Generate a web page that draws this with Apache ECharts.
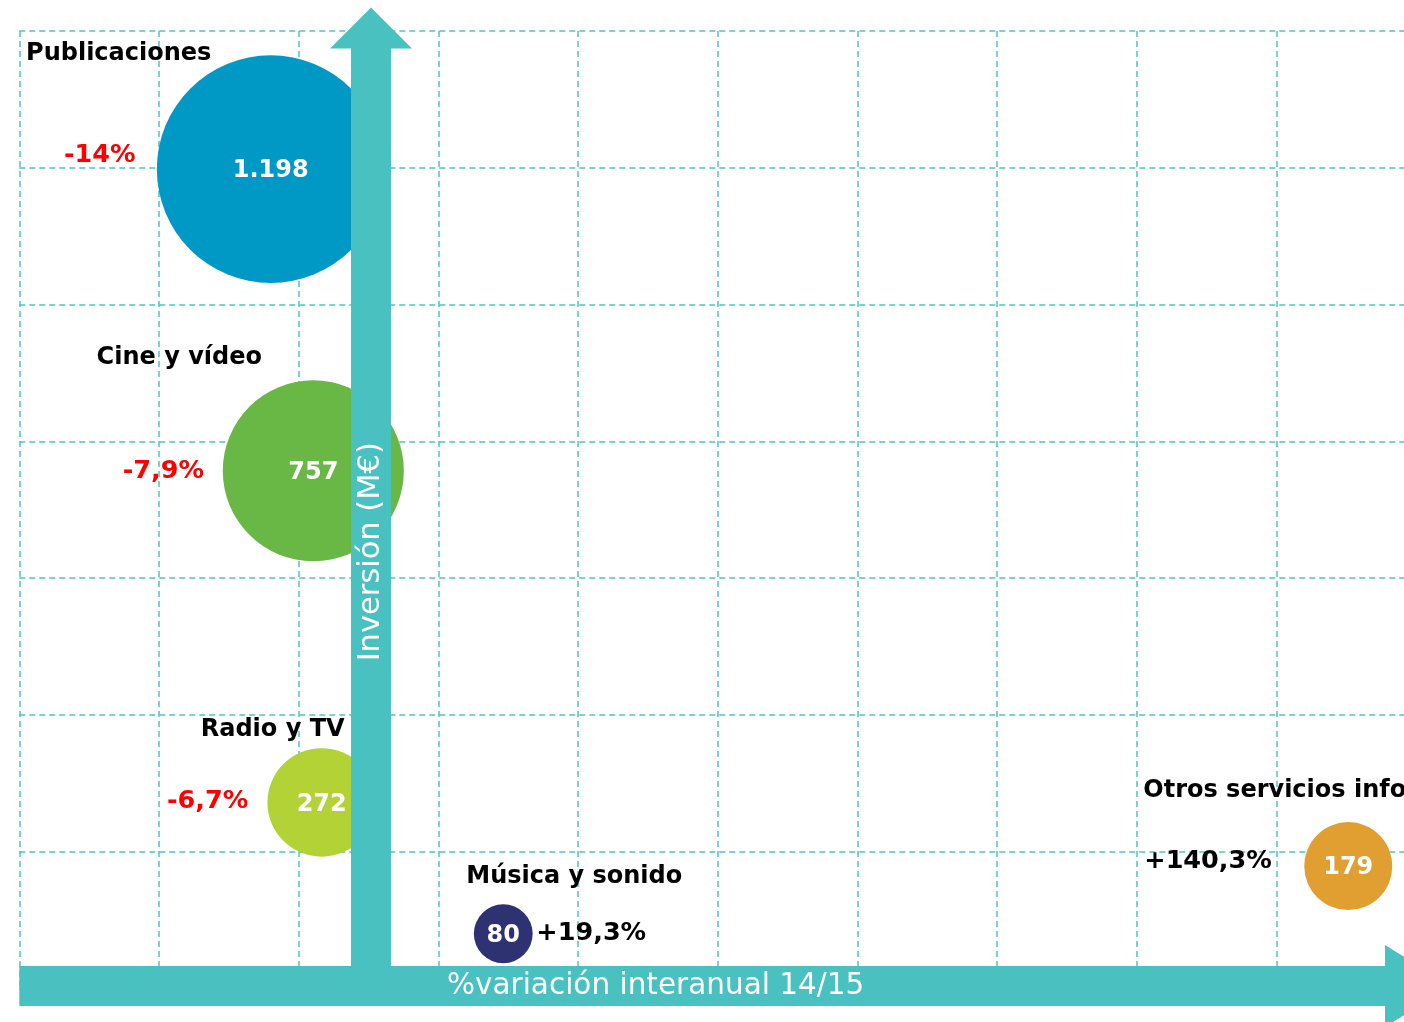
<!DOCTYPE html>
<html><head><meta charset="utf-8">
<script src="https://cdn.jsdelivr.net/npm/echarts@6/dist/echarts.min.js"></script>
<style>html,body{margin:0;padding:0;background:#fff}#c{width:1404px;height:1022px}</style>
</head><body><div id="c"></div>
<script>
// ---- data ----
const categories = ['Publicaciones', 'Cine y vídeo', 'Radio y TV', 'Música y sonido', 'Otros servicios info'];
const variation  = [-14, -7.9, -6.7, 19.3, 140.3];   // % variación interanual 14/15
const investment = [1198, 757, 272, 80, 179];        // Inversión (M€)
const xAxisTitle = '%variación interanual 14/15';
const yAxisTitle = 'Inversión (M€)';
const xRange = [-50, 150], xStep = 20;
const yRange = [0, 1400], yStep = 200;

// ---- style ----
const FONT = 'DejaVu Sans';
const bubbleColors = ['#0098C4', '#69B745', '#B2D235', '#2E3272', '#E19F32'];
const ARROW = '#48C1C0';
const GRIDC = '#4FC3C2';
const nameLabelLayout = [
  {offset: [-152, -115], align: 'center'},
  {offset: [-134, -113], align: 'center'},
  {offset: [-49, -73], align: 'center'},
  {offset: [71, -57], align: 'center'},
  {offset: [-205, -75], align: 'left'}
];
const pctLabelLayout = [
  {offset: [-171, -14], align: 'center'},
  {offset: [-150, 1], align: 'center'},
  {offset: [-114, -1], align: 'center'},
  {offset: [88, 0], align: 'center'},
  {offset: [-204, -5], align: 'left'}
];

const fmtVal = v => String(v).replace(/\B(?=(\d{3})+(?!\d))/g, '.');
const fmtPct = v => (v > 0 ? '+' : '') + String(v).replace('.', ',') + '%';

const chart = echarts.init(document.getElementById('c'), null, {renderer: 'canvas'});

const baseAxis = (range, step) => ({
  type: 'value', min: range[0], max: range[1], interval: step,
  axisLabel: {show: false}, axisTick: {show: false}
});

const labelTxt = {fontFamily: FONT, fontWeight: 'bold', fontSize: 24};
const X_OFF = -2.5, Y_OFF = -351.7;

chart.setOption({
  animation: false,
  grid: {left: 19.3, right: -12, top: 31, bottom: 33.5, containLabel: false, outerBoundsMode: 'none'},
  xAxis: [
    Object.assign(baseAxis(xRange, xStep), {
      z: 0, axisLine: {show: false},
      splitLine: {show: true, lineStyle: {color: GRIDC, width: 1.5, type: [6, 4]}}
    }),
    Object.assign(baseAxis(xRange, xStep), {
      z: 10, splitLine: {show: false}, position: 'bottom', offset: X_OFF,
      axisLine: {show: true, onZero: false,
        lineStyle: {color: ARROW, width: 40, cap: 'butt'},
        symbol: ['none', 'triangle'], symbolSize: [82, 66], symbolOffset: [0, 2]}
    }),
    Object.assign(baseAxis(xRange, xStep), {
      z: 12, splitLine: {show: false}, position: 'bottom', offset: X_OFF,
      axisLine: {show: false, onZero: false},
      name: xAxisTitle, nameLocation: 'middle', nameGap: 0,
      nameTextStyle: {color: '#fff', fontFamily: FONT, fontSize: 29.5, verticalAlign: 'middle', align: 'center', padding: [0, 124, 0, 0]}
    })
  ],
  yAxis: [
    Object.assign(baseAxis(yRange, yStep), {
      z: 0, axisLine: {show: false},
      splitLine: {show: true, lineStyle: {color: GRIDC, width: 1.5, type: [6, 4]}}
    }),
    Object.assign(baseAxis(yRange, yStep), {
      z: 10, splitLine: {show: false}, position: 'left', offset: Y_OFF,
      axisLine: {show: true, onZero: false,
        lineStyle: {color: ARROW, width: 40, cap: 'butt'},
        symbol: ['none', 'triangle'], symbolSize: [82, 41], symbolOffset: [0, 3]}
    }),
    Object.assign(baseAxis(yRange, yStep), {
      z: 12, splitLine: {show: false}, position: 'left', offset: Y_OFF,
      axisLine: {show: false, onZero: false},
      name: yAxisTitle, nameLocation: 'middle', nameGap: 0, nameRotate: 90,
      nameTextStyle: {color: '#fff', fontFamily: FONT, fontSize: 30.5, verticalAlign: 'middle', align: 'center', padding: [0, 84, 0, 0]}
    })
  ],
  series: [
    {
      type: 'scatter', z: 2, xAxisIndex: 0, yAxisIndex: 0,
      data: categories.map((c, i) => ({name: c, value: [variation[i], investment[i]], itemStyle: {color: bubbleColors[i], opacity: 1}})),
      symbolSize: v => 6.58 * Math.sqrt(v[1]),
      itemStyle: {opacity: 1},
      label: Object.assign({show: true, position: 'inside', color: '#fff', offset: [0, 2], formatter: p => fmtVal(p.value[1])}, labelTxt),
      emphasis: {disabled: true}
    },
    {
      type: 'scatter', z: 3, xAxisIndex: 0, yAxisIndex: 0, symbolSize: 1,
      itemStyle: {color: 'rgba(0,0,0,0)', opacity: 1},
      data: categories.map((c, i) => ({name: c, value: [variation[i], investment[i]],
        label: {offset: nameLabelLayout[i].offset, align: nameLabelLayout[i].align}})),
      label: Object.assign({show: true, position: 'inside', color: '#000', verticalAlign: 'middle', formatter: p => p.name}, labelTxt),
      emphasis: {disabled: true}, silent: true
    },
    {
      type: 'scatter', z: 3, xAxisIndex: 0, yAxisIndex: 0, symbolSize: 1,
      itemStyle: {color: 'rgba(0,0,0,0)', opacity: 1},
      data: categories.map((c, i) => ({name: c, value: [variation[i], investment[i]],
        label: {offset: pctLabelLayout[i].offset, align: pctLabelLayout[i].align,
                color: variation[i] < 0 ? '#FF0000' : '#000'}})),
      label: Object.assign({show: true, position: 'inside', verticalAlign: 'middle', formatter: p => fmtPct(p.value[0])}, labelTxt, {fontSize: 25.5}),
      emphasis: {disabled: true}, silent: true
    }
  ]
});
</script>
</body></html>
